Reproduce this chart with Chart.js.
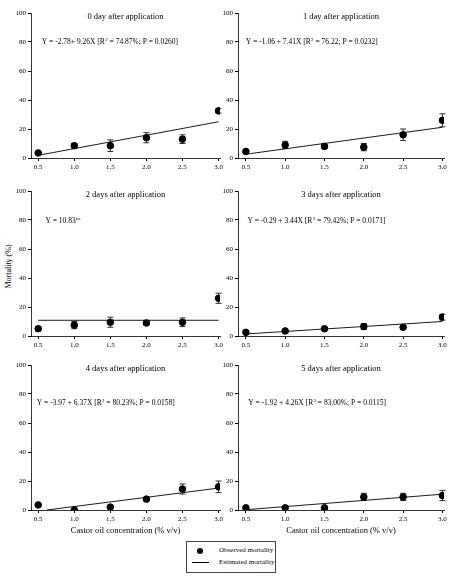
<!DOCTYPE html>
<html>
<head>
<meta charset="utf-8">
<script src="https://cdn.jsdelivr.net/npm/chart.js@4.4.1/dist/chart.umd.min.js"></script>
<style>
  body { margin: 0; background: #fff; width: 449px; height: 576px; position: relative; font-family: "Liberation Serif", serif; color: #000; }
  .pane { position: absolute; }
  #ylab { position: absolute; left: -22px; top: 262px; transform: rotate(-90deg); font-size: 8px; width: 60px; text-align: center; }
  #legend { position: absolute; left: 186px; top: 541px; width: 88px; height: 30px; border: 1px solid #444; font-size: 7px; -webkit-font-smoothing: grayscale; }
  #legend div { position: relative; height: 11px; margin-top: 3px; padding-left: 32px; line-height: 11px; color: #000; }
  .dot { position: absolute; left: 10px; top: 3px; width: 6px; height: 6px; border-radius: 50%; background: #000; }
  .ln { position: absolute; left: 5px; top: 5px; width: 17px; height: 1px; background: #000; }
</style>
</head>
<body>
<div id="ylab">Mortality (%)</div>
<div id="legend">
  <div><span class="dot"></span>Observed mortality</div>
  <div style="margin-top:1px"><span class="ln"></span>Estimated mortality</div>
</div>
<script>
// concentrations (% v/v) and tick labels
const conc = [0.5, 1.0, 1.5, 2.0, 2.5, 3.0];
const xTicks = [0.5, 1.0, 1.5, 2.0, 2.5, 3.0];
const yTicks = [0, 20, 40, 60, 80, 100];

const titles = ['0 day after application', '1 day after application', '2 days after application',
                '3 days after application', '4 days after application', '5 days after application'];

// observed mean mortality per panel
const obs0 = [3.5, 8.5, 8.5, 14, 13, 32.5];
const obs1 = [4.5, 9, 8, 7.5, 16, 26];
const obs2 = [5, 7.5, 9.5, 9, 9.5, 26];
const obs3 = [2.5, 3.5, 5, 6.5, 6, 13];
const obs4 = [3.5, 0, 2, 7.5, 14.5, 16];
const obs5 = [1.5, 1.5, 1.5, 9, 9, 10];

// error bar half-lengths
const err0 = [1, 1.5, 4, 3.5, 3, 1.5];
const err1 = [1, 2.5, 1.5, 2.5, 4, 4.5];
const err2 = [1.5, 2.5, 3.5, 1.5, 3, 3.5];
const err3 = [1, 1, 0.5, 2, 1.5, 2];
const err4 = [1, 0.5, 1, 1, 3.5, 4];
const err5 = [0.5, 0.5, 0.5, 2.5, 2.5, 3.5];

// estimated line endpoints [x, y]
const fit0 = [[0.5, 1.85], [3.0, 25]];
const fit1 = [[0.5, 2.6], [3.0, 21.2]];
const fit2 = [[0.5, 10.83], [3.0, 10.83]];
const fit3 = [[0.5, 1.4], [3.0, 10]];
const fit4 = [[0.62, 0], [3.0, 15.1]];
const fit5 = [[0.5, 0.2], [3.0, 10.9]];

// equation text: [before superscript, superscript, after]
const eqs = [
  ['Y = -2.78+ 9.26X [R', '2', ' = 74.87%; P = 0.0260]'],
  ['Y = -1.06 + 7.41X [R', '2', ' = 76.22; P = 0.0232]'],
  ['Y = 10.83', 'ns', ''],
  ['Y = -0.29 + 3.44X [R', '2', ' = 79.42%; P = 0.0171]'],
  ['Y = -3.97 + 6.37X [R', '2', ' = 80.23%; P = 0.0158]'],
  ['Y = -1.92 + 4.26X [R', '2', ' = 83.00%; P = 0.0115]']
];
const eqPos = [[0.55, 80], [0.5, 80], [0.6, 79], [0.52, 79], [0.48, 74], [0.53, 74]];

const obsAll = [obs0, obs1, obs2, obs3, obs4, obs5];
const errAll = [err0, err1, err2, err3, err4, err5];
const fitAll = [fit0, fit1, fit2, fit3, fit4, fit5];

const FONT = '"Liberation Serif", serif';

const panelPlugin = {
  id: 'panel',
  afterDatasetsDraw(chart) {
    const o = chart.options.plugins.panel;
    const ctx = chart.ctx, xs = chart.scales.x, ys = chart.scales.y, a = chart.chartArea;
    ctx.save();
    ctx.strokeStyle = '#000';
    ctx.lineWidth = 0.8;
    o.obs.forEach((v, i) => {
      const px = xs.getPixelForValue(conc[i]);
      const t = ys.getPixelForValue(v + o.err[i]), b = ys.getPixelForValue(Math.max(0, v - o.err[i]));
      ctx.beginPath();
      ctx.moveTo(px, t); ctx.lineTo(px, b);
      ctx.moveTo(px - 3, t); ctx.lineTo(px + 3, t);
      ctx.moveTo(px - 3, b); ctx.lineTo(px + 3, b);
      ctx.stroke();
    });
    ctx.fillStyle = '#000';
    ctx.font = '8.5px ' + FONT;
    ctx.textAlign = 'center';
    ctx.textBaseline = 'top';
    ctx.fillText(o.title, (a.left + a.right) / 2, a.top);
    ctx.textAlign = 'left';
    ctx.textBaseline = 'middle';
    ctx.font = '7.5px ' + FONT;
    let x = xs.getPixelForValue(o.eqAt[0]);
    const y = ys.getPixelForValue(o.eqAt[1]);
    ctx.fillText(o.eq[0], x, y);
    x += ctx.measureText(o.eq[0]).width;
    ctx.font = '5px ' + FONT;
    ctx.fillText(o.eq[1], x + 0.3, y - 2.5);
    x += ctx.measureText(o.eq[1]).width + 0.3;
    ctx.font = '7.5px ' + FONT;
    ctx.fillText(o.eq[2], x, y);
    ctx.restore();
  }
};

function makePanel(i, left, top, width, height, yWidth, xHeight, withTitle) {
  const cv = document.createElement('canvas');
  const wrap = document.createElement('div');
  wrap.className = 'pane';
  wrap.style.cssText = `left:${left}px;top:${top}px;width:${width}px;height:${height}px`;
  wrap.appendChild(cv);
  document.body.appendChild(wrap);
  const tickFont = { family: FONT, size: 7 };
  return new Chart(cv, {
    data: {
      datasets: [
        { type: 'line', data: fitAll[i].map(p => ({ x: p[0], y: p[1] })), borderColor: '#000', borderWidth: 0.9, pointRadius: 0 },
        { type: 'scatter', data: obsAll[i].map((v, k) => ({ x: conc[k], y: v })), backgroundColor: '#000', borderColor: '#000', pointRadius: 3.3 }
      ]
    },
    options: {
      responsive: true, maintainAspectRatio: false, animation: false,
      layout: { padding: { top: 13, right: 3, left: 0, bottom: 0 } },
      plugins: {
        legend: { display: false }, tooltip: { enabled: false },
        panel: { obs: obsAll[i], err: errAll[i], title: titles[i], eq: eqs[i], eqAt: eqPos[i] }
      },
      scales: {
        x: {
          type: 'linear', min: 0.4, max: 3.02,
          afterBuildTicks: s => { s.ticks = xTicks.map(v => ({ value: v })); },
          afterFit: s => { s.height = xHeight; },
          ticks: { font: tickFont, color: '#000', padding: 2, callback: v => v.toFixed(1), maxRotation: 0 },
          grid: { drawOnChartArea: false, color: '#000', tickLength: 3 },
          border: { color: '#000', width: 0.8 },
          title: { display: withTitle, text: 'Castor oil concentration (% v/v)', font: { family: FONT, size: 8.5 }, color: '#000', padding: 0 }
        },
        y: {
          min: 0, max: 100,
          afterBuildTicks: s => { s.ticks = yTicks.map(v => ({ value: v })); },
          afterFit: s => { s.width = yWidth; },
          ticks: { font: tickFont, color: '#000', padding: 2 },
          grid: { drawOnChartArea: false, color: '#000', tickLength: 3 },
          border: { color: '#000', width: 0.8 }
        }
      }
    },
    plugins: [panelPlugin]
  });
}

makePanel(0, 0, 0, 225, 175, 31, 17, false);
makePanel(1, 222, 0, 227, 175, 16, 17, false);
makePanel(2, 0, 178, 225, 175, 31, 17, false);
makePanel(3, 222, 178, 227, 175, 16, 17, false);
makePanel(4, 0, 352, 225, 184, 31, 26, true);
makePanel(5, 222, 352, 227, 184, 16, 26, true);
</script>
</body>
</html>
